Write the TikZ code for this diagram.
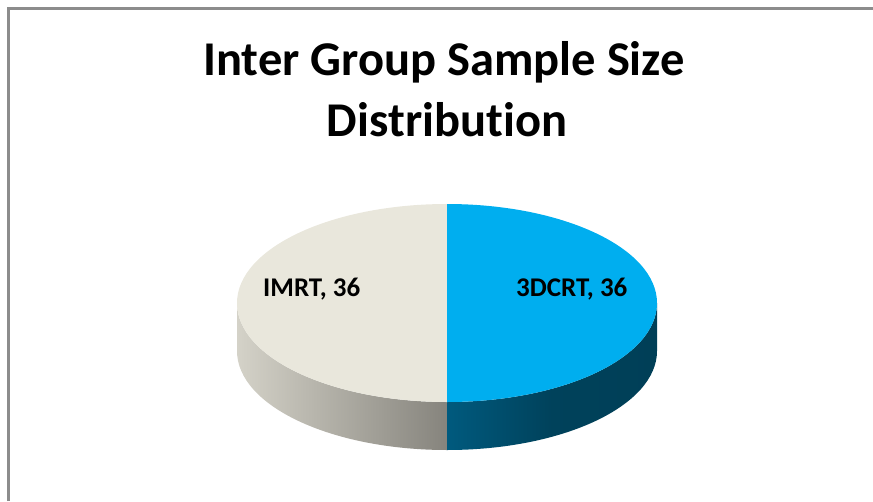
\documentclass[tikz,border=0pt]{standalone}
\usepackage{fontspec}
\setmainfont[Ligatures=NoCommon]{Carlito}
\definecolor{frame}{HTML}{8C8C8C}
\definecolor{imrttop}{HTML}{E9E7DC}
\definecolor{crttop}{HTML}{00AEEF}
\definecolor{imrtsideL}{HTML}{D4D2C8}
\definecolor{imrtsideR}{HTML}{86847D}
\definecolor{crtsideL}{HTML}{005A7E}
\definecolor{crtsideR}{HTML}{003F57}
\tikzset{
  titletext/.style={font=\bfseries\fontsize{48.5}{58}\selectfont, anchor=base, inner sep=0pt},
  labeltext/.style={font=\bfseries\fontsize{27}{32}\selectfont, anchor=base west, inner sep=0pt},
}
\begin{document}
\begin{tikzpicture}[x=1pt,y=-1pt]
\useasboundingbox (0,0) rectangle (873,501);
% frame
\draw[frame, line width=2.2pt] (8.5,501) -- (8.5,8.5) -- (873,8.5);
% side faces
\shade[left color=imrtsideL, right color=imrtsideR]
  (237,303) -- (237,351) arc[start angle=180, end angle=90, x radius=210, y radius=99]
  -- (447,402) arc[start angle=90, end angle=180, x radius=210, y radius=99] -- cycle;
\shade[left color=crtsideL, right color=crtsideR, middle color=crtsideR!90!crtsideL]
  (657,303) -- (657,351) arc[start angle=0, end angle=90, x radius=210, y radius=99]
  -- (447,402) arc[start angle=90, end angle=0, x radius=210, y radius=99] -- cycle;
% top faces
\fill[imrttop] (447,204) arc[start angle=270, end angle=90, x radius=210, y radius=99] -- cycle;
\fill[crttop] (447,204) arc[start angle=-90, end angle=90, x radius=210, y radius=99] -- cycle;
% title
\node[titletext] (title1) at (444,75) {Inter Group Sample Size};
\node[titletext] (title2) at (447,136) {Distribution};
% labels
\node[labeltext] (imrt) at (263,296) {IMRT, 36};
\node[labeltext] (crt) at (516,296) {3DCRT, 36};
\end{tikzpicture}
\end{document}
